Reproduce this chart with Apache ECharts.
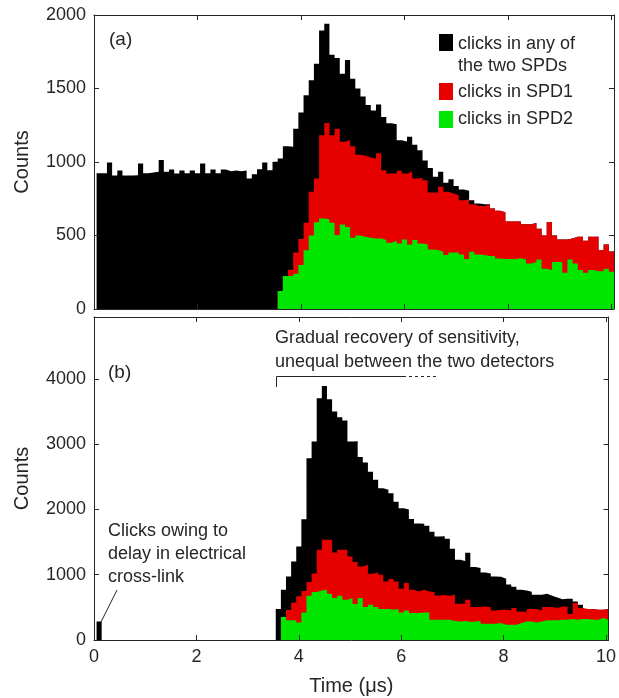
<!DOCTYPE html>
<html><head><meta charset="utf-8">
<script src="https://cdn.jsdelivr.net/npm/echarts@6/dist/echarts.min.js"></script>
<style>html,body{margin:0;padding:0;background:#fff}#c{width:619px;height:698px}</style>
</head><body><div id="c"></div>
<script>
// Histogram bins: 100 bins of 0.1 µs, first bin centred at 0.1 µs
const binCount = 100;
const binLeftEdges = Array.from({length: binCount}, (_, i) => +(0.05 + 0.1 * i).toFixed(2));
const binRightEnd = 10.05;

// Panel (a)
const anyA = [
 924,924,996,908,942,908,908,910,990,924,
 928,933,1014,933,949,921,942,924,942,924,
 990,924,949,924,949,937,942,937,942,888,
 917,951,996,944,1001,1023,1107,1103,1227,1336,
 1454,1556,1669,1895,1941,1730,1707,1601,1694,1567,
 1500,1445,1388,1350,1392,1306,1264,1257,1148,1140,
 1171,1118,1080,1010,960,900,933,858,883,836,
 813,804,740,718,712,713,684,668,659,595,
 595,595,577,577,585,546,500,591,500,473,
 473,480,491,491,464,491,491,401,439,392];
const spd1A = [
 0,0,0,0,0,0,0,0,0,0,
 0,0,0,0,0,0,0,0,0,0,
 0,0,0,0,0,0,0,0,0,0,
 0,0,0,0,0,122,224,267,385,476,
 587,797,888,1182,1266,1182,1227,1137,1150,1107,
 1050,1042,1030,1024,1060,944,921,921,940,921,
 933,888,892,876,792,792,831,797,786,774,
 740,745,713,700,700,713,684,668,659,595,
 595,595,577,577,585,546,500,591,500,473,
 473,480,491,491,464,491,491,401,439,392];
const spd2A = [
 0,0,0,0,0,0,0,0,0,0,
 0,0,0,0,0,0,0,0,0,0,
 0,0,0,0,0,0,0,0,0,0,
 0,0,0,0,0,122,224,224,240,300,
 400,500,590,615,611,587,503,575,557,485,
 500,491,485,480,480,469,451,464,446,473,
 439,469,446,439,405,401,389,367,385,385,
 371,340,389,371,367,360,360,344,340,340,
 340,346,337,310,319,337,274,265,319,319,
 247,337,310,265,247,265,256,256,274,253];

// Panel (b)
const anyB = [
 285,0,0,0,0,0,0,0,0,0,
 0,0,0,0,0,0,0,0,0,0,
 0,0,0,0,0,0,0,0,0,0,
 0,0,0,0,0,474,770,975,1204,1434,
 1852,2787,3041,3705,3893,3690,3500,3414,3365,3041,
 3045,2805,2720,2580,2455,2327,2301,2250,2120,2020,
 2000,1855,1785,1781,1750,1660,1587,1590,1550,1400,
 1230,1210,1336,1120,1102,1035,1020,974,968,940,
 850,815,770,760,740,694,694,710,680,650,
 625,632,632,591,541,475,475,464,464,475];
const spd1B = [
 0,0,0,0,0,0,0,0,0,0,
 0,0,0,0,0,0,0,0,0,0,
 0,0,0,0,0,0,0,0,0,0,
 0,0,0,0,0,0,352,460,570,670,
 750,890,1020,1383,1536,1536,1342,1383,1383,1281,
 1197,1127,1153,1015,1035,1000,897,934,897,785,
 872,770,744,770,744,735,683,690,678,694,
 556,556,617,505,505,515,500,454,464,464,
 454,490,438,430,475,475,454,505,505,490,
 515,515,400,566,490,475,475,464,464,475];
const spd2B = [
 0,0,0,0,0,0,0,0,0,0,
 0,0,0,0,0,0,0,0,0,0,
 0,0,0,0,0,0,0,0,0,0,
 0,0,0,0,0,0,352,301,301,270,
 423,679,735,760,770,709,643,679,617,643,
 550,643,505,540,505,474,474,464,474,423,
 454,413,413,423,423,311,311,311,311,290,
 285,290,280,285,290,250,250,250,260,234,
 234,234,260,285,285,270,285,301,301,301,
 311,311,321,311,321,321,311,311,337,311];

const xTicks = [0, 2, 4, 6, 8, 10];
const yTicksA = [0, 500, 1000, 1500, 2000];
const yTicksB = [0, 1000, 2000, 3000, 4000];
const seriesNames = ['clicks in any of\nthe two SPDs', 'clicks in SPD1', 'clicks in SPD2'];

const colors = ['#000000', '#e60000', '#00e600'];
const axisColor = '#262626';
const font = '"Liberation Sans", Arial, Helvetica, sans-serif';

function steps(vals) {
  const d = vals.map((v, i) => [binLeftEdges[i], v]);
  d.push([binRightEnd, vals[vals.length - 1]]);
  return d;
}

function xAxis(grid, position, withLabels) {
  return {
    type: 'value', gridIndex: grid, position: position,
    min: 0, max: binRightEnd, interval: xTicks[1] - xTicks[0],
    z: 10,
    axisLine: {show: true, onZero: false, lineStyle: {color: axisColor, width: 1}},
    axisTick: {show: true, inside: true, length: 5, lineStyle: {color: axisColor}},
    axisLabel: {show: withLabels, showMaxLabel: false, margin: 8, color: axisColor,
      fontSize: 18, fontFamily: font, formatter: v => String(v)},
    splitLine: {show: false},
    name: withLabels ? 'Time (μs)' : '', nameLocation: 'middle', nameGap: 36,
    nameTextStyle: {color: axisColor, fontSize: 20, fontFamily: font}
  };
}
function yAxis(grid, position, max, ticks, withLabels) {
  return {
    type: 'value', gridIndex: grid, position: position,
    min: 0, max: max, interval: ticks[1] - ticks[0],
    z: 10,
    axisLine: {show: true, onZero: false, lineStyle: {color: axisColor, width: 1}},
    axisTick: {show: true, inside: true, length: 5, lineStyle: {color: axisColor}},
    axisLabel: {show: withLabels, showMaxLabel: max === ticks[ticks.length - 1], margin: 8,
      color: axisColor, fontSize: 18, fontFamily: font, formatter: v => String(v)},
    splitLine: {show: false},
    name: withLabels ? 'Counts' : '', nameLocation: 'middle', nameGap: 62,
    nameTextStyle: {color: axisColor, fontSize: 20, fontFamily: font}
  };
}
function hist(name, vals, color, xi, yi, z) {
  return {
    name: name, type: 'line', step: 'end', xAxisIndex: xi, yAxisIndex: yi,
    data: steps(vals), symbol: 'none', z: z,
    lineStyle: {width: 0, color: color},
    itemStyle: {color: color},
    areaStyle: {color: color, opacity: 1},
    silent: true
  };
}

const chart = echarts.init(document.getElementById('c'));
const txt = (x, y, s, size) => ({
  type: 'text', x: x, y: y, z: 100,
  style: {text: s, fill: axisColor, font: (size || 18) + 'px ' + font, textVerticalAlign: 'middle'}
});

chart.setOption({
  animation: false,
  backgroundColor: '#ffffff',
  grid: [
    {left: 94, top: 15, width: 520, height: 294},
    {left: 94, top: 317, width: 520, height: 323}
  ],
  xAxis: [xAxis(0, 'bottom', false), xAxis(0, 'top', false), xAxis(1, 'bottom', true), xAxis(1, 'top', false)],
  yAxis: [yAxis(0, 'left', yTicksA[yTicksA.length - 1], yTicksA, true), yAxis(0, 'right', yTicksA[yTicksA.length - 1], yTicksA, false),
          yAxis(1, 'left', 4950, yTicksB, true), yAxis(1, 'right', 4950, yTicksB, false)],
  series: [
    hist(seriesNames[0], anyA, colors[0], 0, 0, 2),
    hist(seriesNames[1], spd1A, colors[1], 0, 0, 3),
    hist(seriesNames[2], spd2A, colors[2], 0, 0, 4),
    hist(seriesNames[0], anyB, colors[0], 2, 2, 2),
    hist(seriesNames[1], spd1B, colors[1], 2, 2, 3),
    hist(seriesNames[2], spd2B, colors[2], 2, 2, 4)
  ],
  graphic: [
    txt(109, 40, '(a)', 19),
    txt(108, 373, '(b)', 19),
    // legend
    {type: 'rect', z: 100, shape: {x: 439, y: 34, width: 14, height: 17}, style: {fill: colors[0]}},
    {type: 'rect', z: 100, shape: {x: 439, y: 83, width: 14, height: 17}, style: {fill: colors[1]}},
    {type: 'rect', z: 100, shape: {x: 439, y: 111, width: 14, height: 17}, style: {fill: colors[2]}},
    txt(458, 44, 'clicks in any of'),
    txt(458, 66, 'the two SPDs'),
    txt(458, 92, seriesNames[1]),
    txt(458, 119, seriesNames[2]),
    // annotation (b) top
    txt(275, 338, 'Gradual recovery of sensitivity,'),
    txt(275, 362, 'unequal between the two detectors'),
    {type: 'polyline', z: 100, shape: {points: [[276.5, 387], [276.5, 376.5], [403, 376.5]]},
      style: {stroke: axisColor, lineWidth: 1, fill: null}},
    {type: 'line', z: 100, shape: {x1: 403, y1: 376.5, x2: 438, y2: 376.5},
      style: {stroke: axisColor, lineWidth: 1, lineDash: [3, 3]}},
    // annotation (b) left
    txt(108, 531, 'Clicks owing to'),
    txt(108, 554, 'delay in electrical'),
    txt(108, 577, 'cross-link'),
    {type: 'line', z: 100, shape: {x1: 117, y1: 590, x2: 101, y2: 622},
      style: {stroke: axisColor, lineWidth: 1}}
  ]
});
</script>
</body></html>
